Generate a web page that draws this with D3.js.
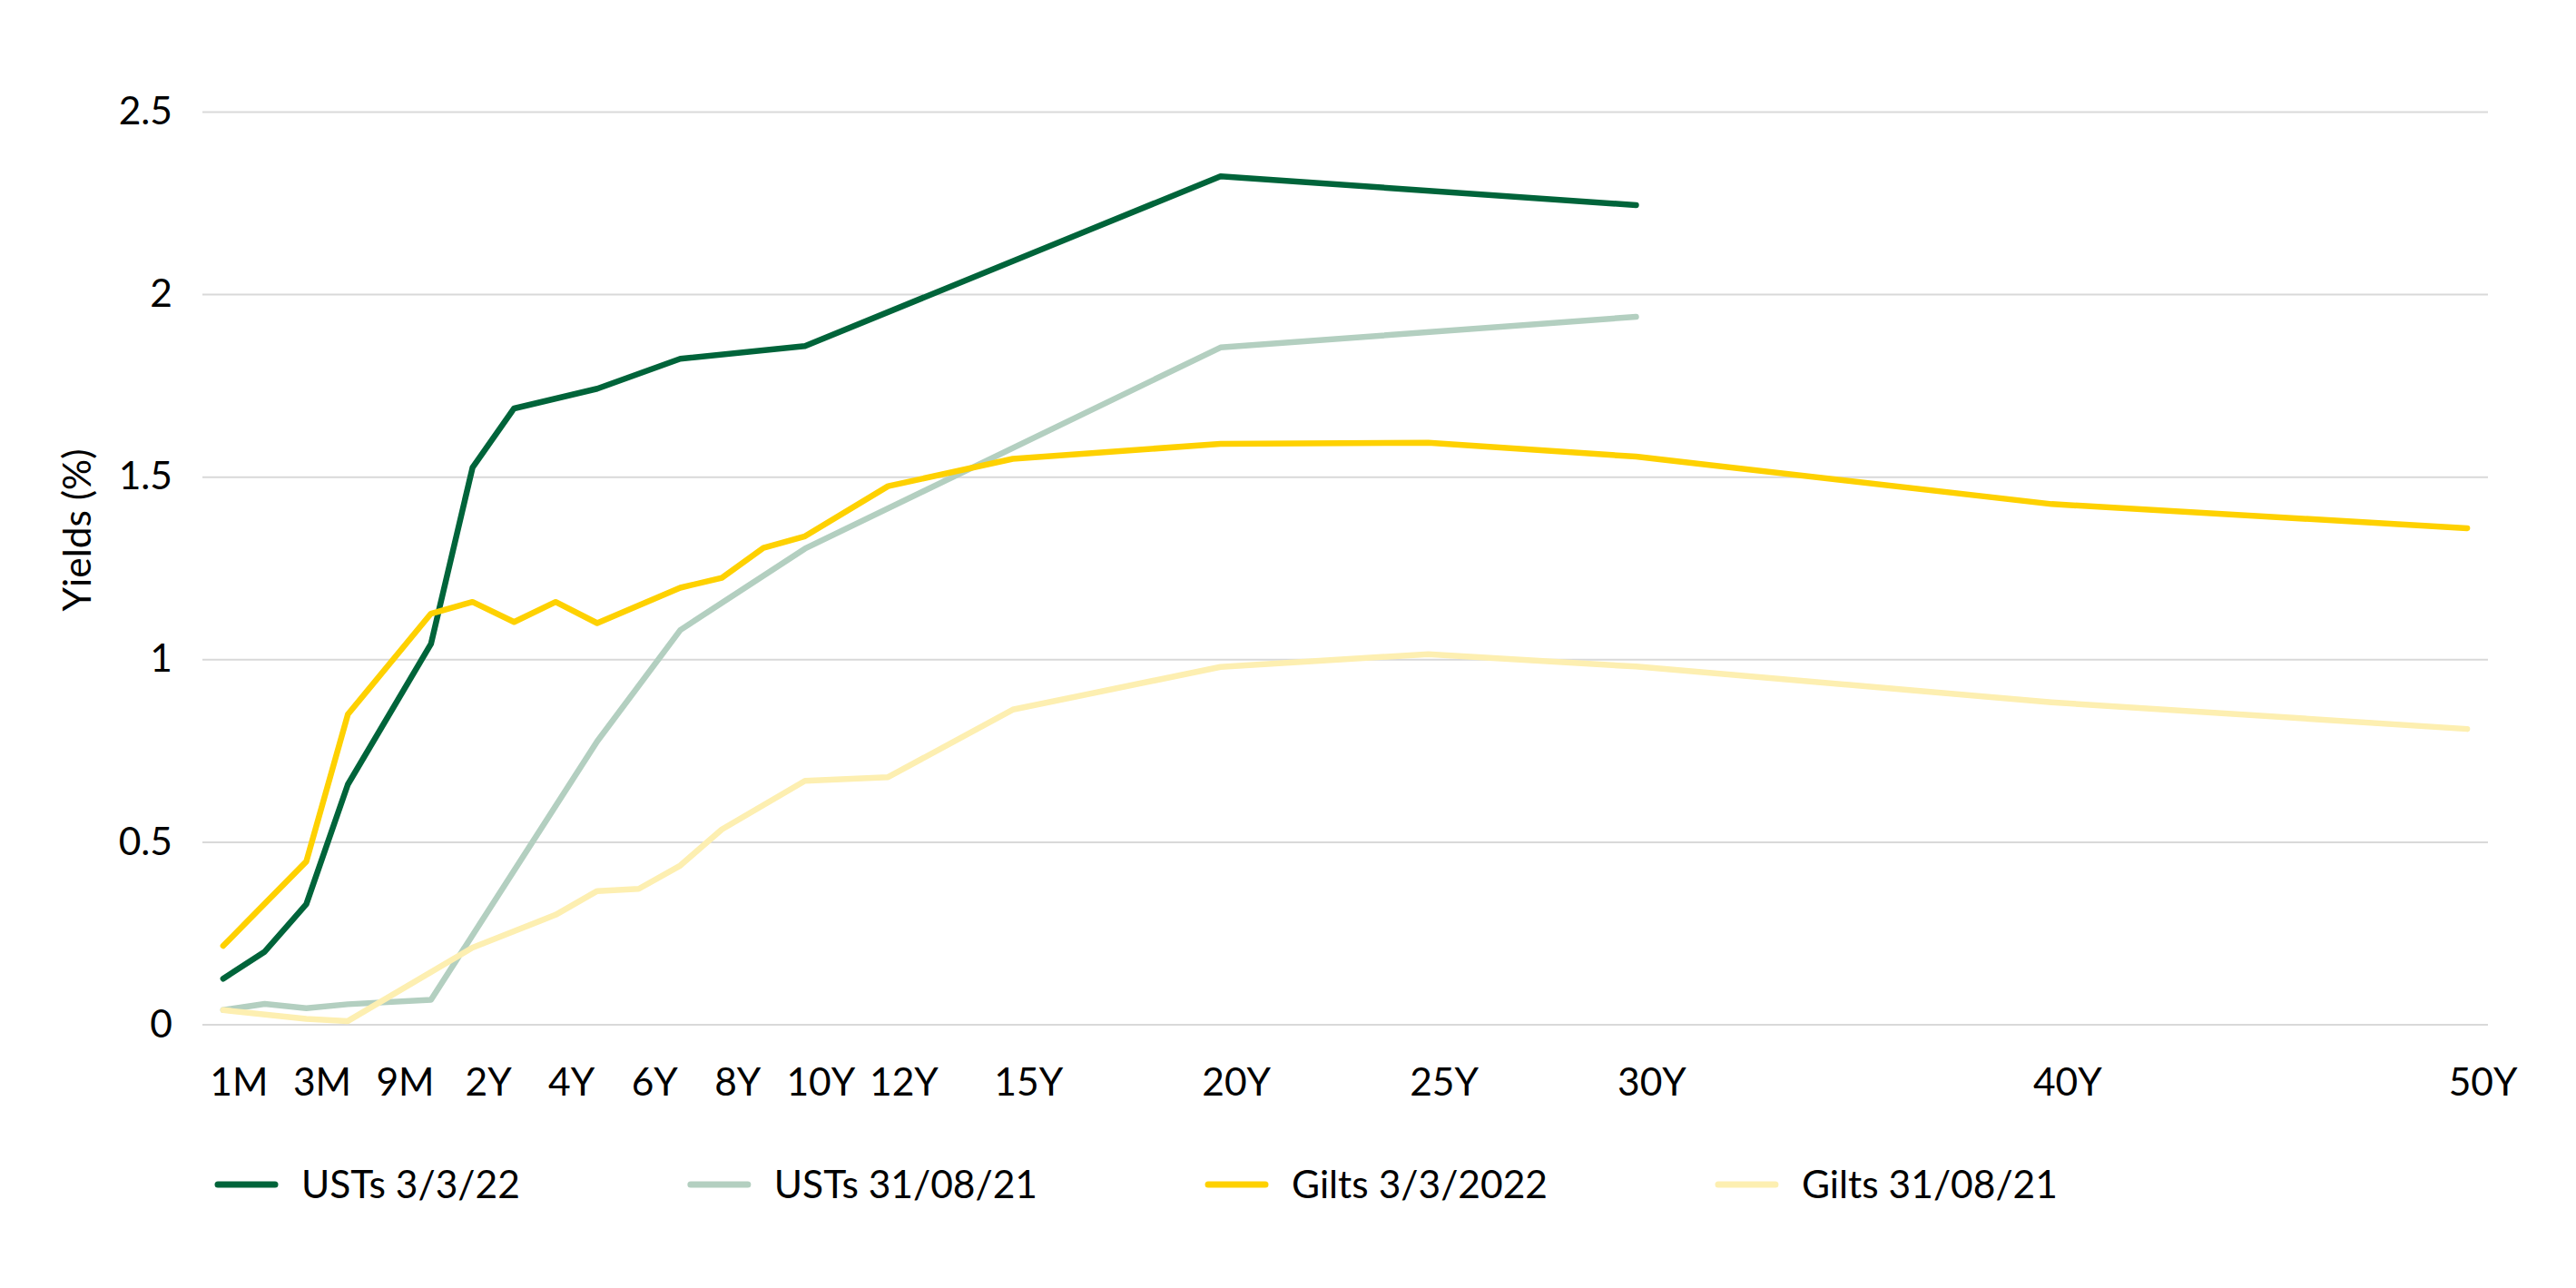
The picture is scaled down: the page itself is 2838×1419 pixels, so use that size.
<!DOCTYPE html>
<html>
<head>
<meta charset="utf-8">
<script src="https://cdnjs.cloudflare.com/ajax/libs/d3/7.8.5/d3.min.js"></script>
<style>
    body { margin: 0; background: #fff; }
    svg { display: block; font-family: Lato, "Open Sans", sans-serif; }
</style>
</head>
<body>
<div id="d3chart"></div>
<script>
// every tenor on the category axis (one slot each)
var tenors = ["1M", "2M", "3M", "6M", "9M",
    "1Y", "2Y", "3Y", "4Y", "5Y", "6Y", "7Y", "8Y", "9Y", "10Y",
    "11Y", "12Y", "13Y", "14Y", "15Y", "16Y", "17Y", "18Y", "19Y", "20Y",
    "21Y", "22Y", "23Y", "24Y", "25Y", "26Y", "27Y", "28Y", "29Y", "30Y",
    "31Y", "32Y", "33Y", "34Y", "35Y", "36Y", "37Y", "38Y", "39Y", "40Y",
    "41Y", "42Y", "43Y", "44Y", "45Y", "46Y", "47Y", "48Y", "49Y", "50Y"];

// tenors that get a label
var tickTenors = ["1M", "3M", "9M", "2Y", "4Y", "6Y", "8Y", "10Y", "12Y", "15Y", "20Y", "25Y", "30Y", "40Y", "50Y"];

var yTicks = [0, 0.5, 1, 1.5, 2, 2.5];

// US Treasuries
var ustTenors = ["1M", "2M", "3M", "6M", "1Y", "2Y", "3Y", "5Y", "7Y", "10Y", "20Y", "30Y"];
var ust030322 = [0.125, 0.199, 0.329, 0.657, 1.042, 1.525, 1.687, 1.741, 1.823, 1.858, 2.323, 2.244];
var ust310821 = [0.039, 0.056, 0.044, 0.055, 0.067, null, null, 0.775, 1.080, 1.303, 1.854, 1.938];

// Gilts
var giltTenors = ["1M", "3M", "6M", "1Y", "2Y", "3Y", "4Y", "5Y", "6Y", "7Y", "8Y", "9Y", "10Y",
    "12Y", "15Y", "20Y", "25Y", "30Y", "40Y", "50Y"];
var gilt030322 = [0.215, 0.446, 0.849, 1.125, 1.157, 1.102, 1.157, 1.099, null, 1.196, 1.223, 1.305, 1.337,
    1.474, 1.549, 1.590, 1.593, 1.555, 1.425, 1.359];
var gilt310821 = [0.039, 0.015, 0.009, null, 0.210, null, 0.300, 0.365, 0.371, 0.435, 0.534, null, 0.667,
    0.677, 0.862, 0.979, 1.014, 0.980, 0.882, 0.809];

var seriesNames = ["USTs 3/3/22", "USTs 31/08/21", "Gilts 3/3/2022", "Gilts 31/08/21"];
var seriesColors = ["#00643a", "#b3cfc0", "#fed100", "#fdefb1"];

var series = [
    { name: seriesNames[0], tenors: ustTenors, values: ust030322, color: seriesColors[0] },
    { name: seriesNames[1], tenors: ustTenors, values: ust310821, color: seriesColors[1] },
    { name: seriesNames[2], tenors: giltTenors, values: gilt030322, color: seriesColors[2] },
    { name: seriesNames[3], tenors: giltTenors, values: gilt310821, color: seriesColors[3] }
];

var width = 2838;
var height = 1419;
var plotLeft = 223, plotRight = 2741, plotTop = 123, plotBottom = 1128.5;
var fontSize = 42.5;

var svg = d3.select("#d3chart")
    .append("svg")
    .attr("width", width)
    .attr("height", height);

var x = d3.scalePoint()
    .domain(tenors)
    .range([plotLeft, plotRight])
    .padding(0.5);

var y = d3.scaleLinear()
    .domain([0, 2.5])
    .range([plotBottom, plotTop]);

// y axis + gridlines
var yAxis = svg.append("g")
    .attr("transform", "translate(" + plotLeft + ",0)")
    .call(d3.axisLeft(y)
        .tickValues(yTicks)
        .tickSize(-(plotRight - plotLeft))
        .tickPadding(33)
        .tickFormat(d3.format("")));
yAxis.select(".domain").remove();
yAxis.selectAll(".tick line")
    .attr("stroke", "#d9d9d9")
    .attr("stroke-width", 2);
yAxis.selectAll(".tick text")
    .attr("fill", "#000")
    .style("font-size", fontSize + "px")
    .style("font-family", "Lato");

// x axis labels
var xAxis = svg.append("g")
    .attr("transform", "translate(0," + plotBottom + ")")
    .call(d3.axisBottom(x)
        .tickValues(tickTenors)
        .tickSize(0)
        .tickPadding(0));
xAxis.select(".domain").remove();
xAxis.selectAll(".tick text")
    .attr("fill", "#000")
    .attr("y", 78)
    .attr("dy", 0)
    .attr("dx", 17)
    .style("font-size", fontSize + "px")
    .style("font-family", "Lato");

// y title
svg.append("text")
    .attr("transform", "translate(100,584) rotate(-90)")
    .attr("text-anchor", "middle")
    .attr("fill", "#000")
    .style("font-size", fontSize + "px")
    .text("Yields (%)");

// lines (blank cells are skipped and the line joins the neighbours)
var line = d3.line()
    .x(function (d) { return x(d.tenor); })
    .y(function (d) { return y(d.value); });

series.forEach(function (s) {
    var pts = s.tenors.map(function (t, i) {
        return { tenor: t, value: s.values[i] };
    }).filter(function (d) { return d.value !== null; });

    svg.append("path")
        .datum(pts)
        .attr("fill", "none")
        .attr("stroke", s.color)
        .attr("stroke-width", 6.5)
        .attr("stroke-linejoin", "round")
        .attr("stroke-linecap", "round")
        .attr("d", line);
});

// legend
var legendY = 1305;
var legendX = 332;
var legendGap = 280;
series.forEach(function (s) {
    var g = svg.append("g");
    g.append("line")
        .attr("x1", legendX - 92)
        .attr("x2", legendX - 29)
        .attr("y1", legendY)
        .attr("y2", legendY)
        .attr("stroke", s.color)
        .attr("stroke-width", 7)
        .attr("stroke-linecap", "round");
    var t = g.append("text")
        .attr("x", legendX)
        .attr("y", legendY)
        .attr("dy", "0.35em")
        .attr("fill", "#000")
        .style("font-size", fontSize + "px")
        .text(s.name);
    legendX += t.node().getComputedTextLength() + legendGap;
});
</script>
</body>
</html>
